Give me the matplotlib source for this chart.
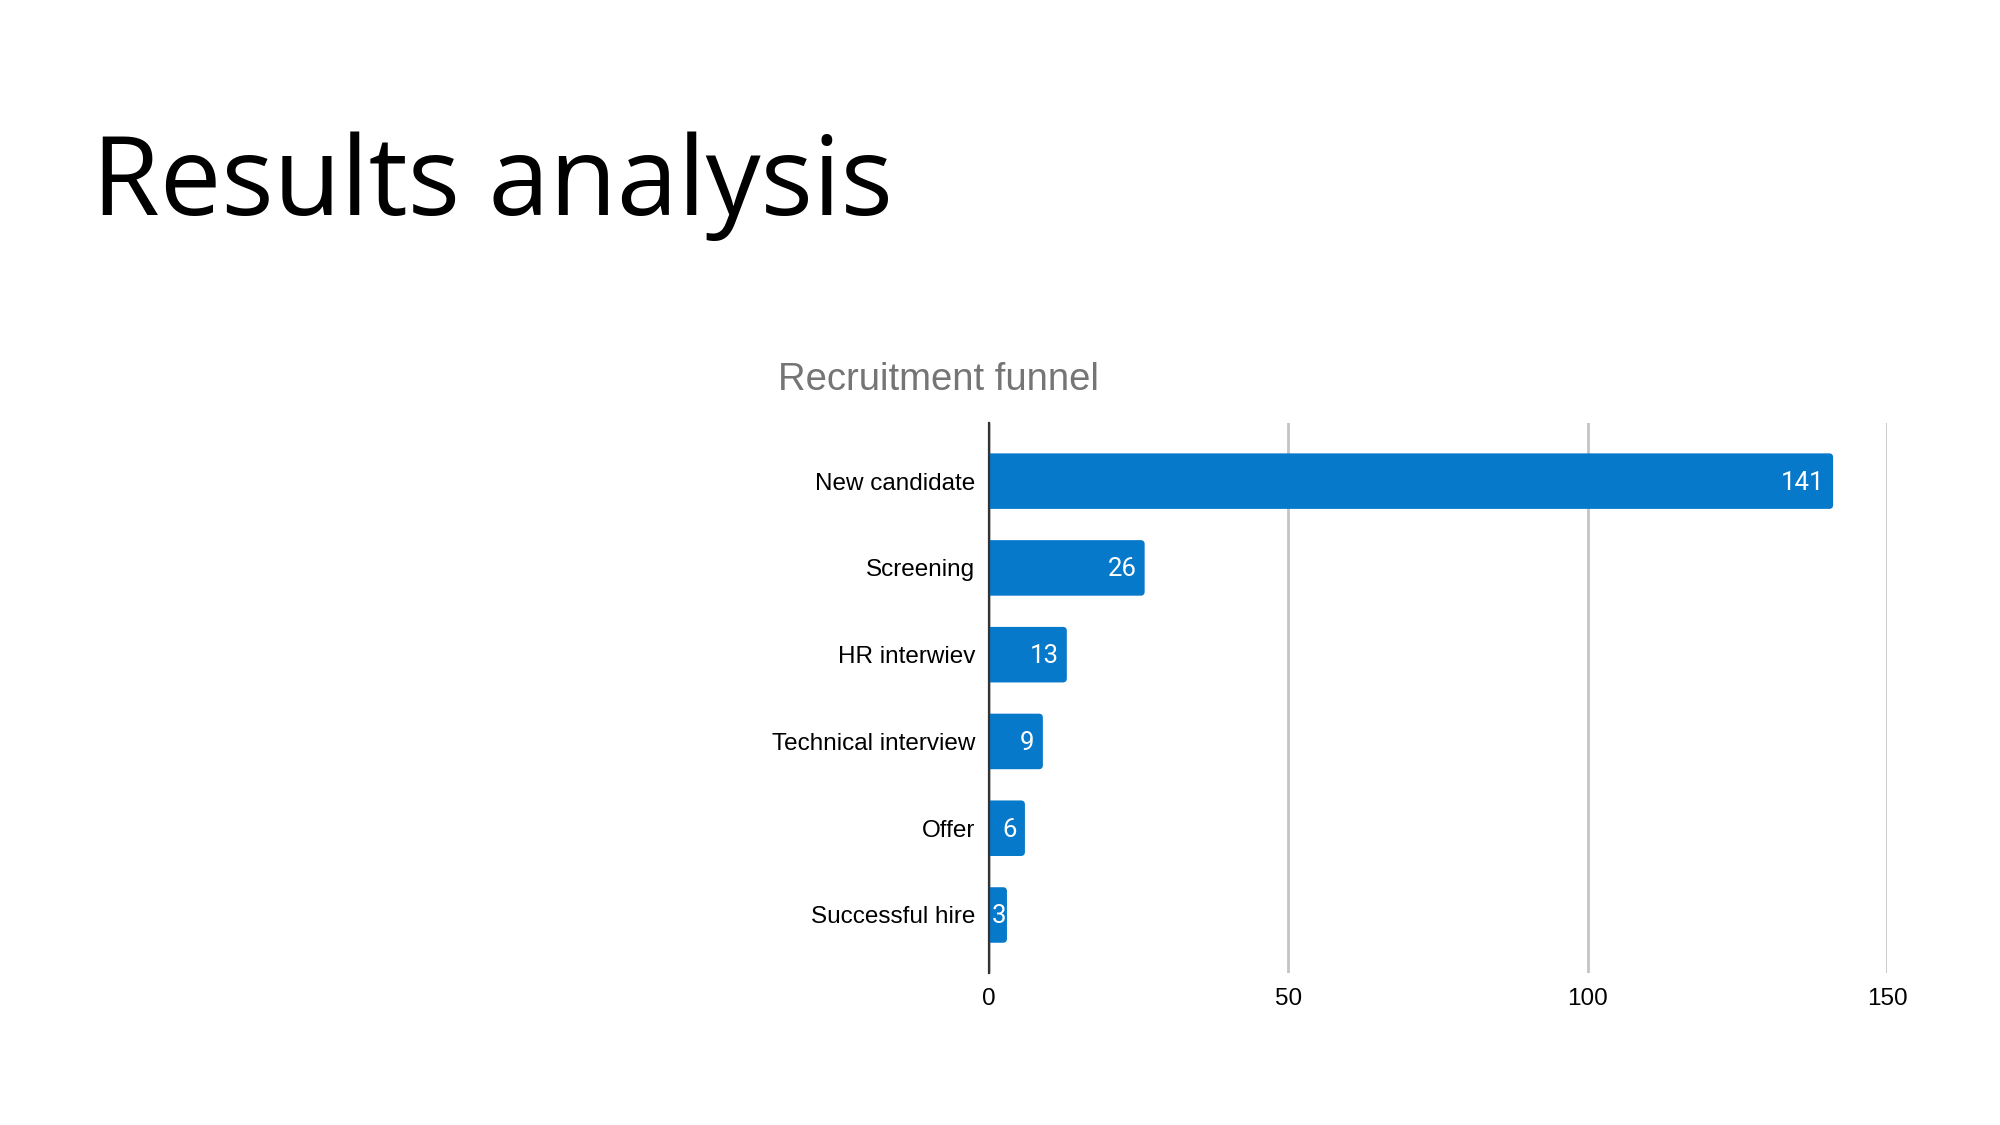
"""Results analysis slide: recruitment funnel horizontal bar chart."""

import matplotlib
matplotlib.use("Agg")
import matplotlib.pyplot as plt
from matplotlib.patches import FancyBboxPatch

# --- data ---
stages = ["New candidate", "Screening", "HR interwiev", "Technical interview",
          "Offer", "Successful hire"]
counts = [141, 26, 13, 9, 6, 3]
xticks = [0, 50, 100, 150]

BAR_COLOR = "#0679CB"
GRID_COLOR = "#C4C4C4"
W, H, DPI = 20, 11.25, 100
AX_L, AX_R, AX_B, AX_T = 0.4945, 0.9435, 0.135, 0.624

fig = plt.figure(figsize=(W, H), dpi=DPI)
fig.patch.set_facecolor("white")

# slide title
fig.text(0.046, 0.809, "Results analysis", fontsize=79, family="Open Sans",
         color="black", va="baseline", ha="left")

# chart title
fig.text(0.389, 0.653, "Recruitment funnel", fontsize=27.5, family="Liberation Sans",
         color="#757575", va="baseline", ha="left")

ax = fig.add_axes([AX_L, AX_B, AX_R - AX_L, AX_T - AX_B])
ypos = list(range(len(stages)))
bars = ax.barh(ypos, counts, height=0.64, color=BAR_COLOR, zorder=3)
ax.set_xlim(0, 150)
ax.set_ylim(len(stages) - 1 + 0.67, -0.67)

# rounded right ends: replace each plain bar by a rounded box that starts a
# little left of 0, so its left corners are clipped away by the axes
ax_w_px = (AX_R - AX_L) * W * DPI
ax_h_px = (AX_T - AX_B) * H * DPI
px_x = 150 / ax_w_px
px_y = (len(stages) - 1 + 1.34) / ax_h_px
r = 4 * px_x
for b in bars:
    x0, y0 = b.get_x(), b.get_y()
    bw, bh = b.get_width(), b.get_height()
    b.set_visible(False)
    fb = FancyBboxPatch((x0 - 2 * r, y0), bw + 2 * r, bh,
                        boxstyle=f"round,pad=0,rounding_size={r}",
                        mutation_aspect=px_y / px_x,
                        facecolor=BAR_COLOR, edgecolor="none", zorder=3)
    ax.add_patch(fb)

# value labels inside bar ends (short bars: label starts at the axis)
for y, v in zip(ypos, counts):
    if v / px_x < 26:
        ax.annotate(str(v), xy=(0, y), xytext=(2, -1), textcoords="offset points",
                    ha="left", va="center", color="white", fontsize=18.5,
                    family="Roboto", zorder=4)
    else:
        ax.annotate(str(v), xy=(v, y), xytext=(-6, -1), textcoords="offset points",
                    ha="right", va="center", color="white", fontsize=18.5,
                    family="Roboto", zorder=4)

ax.set_yticks(ypos)
ax.set_yticklabels(stages, fontsize=17.5, family="Liberation Sans", color="black")
ax.set_xticks(xticks)
ax.set_xticklabels([str(t) for t in xticks], fontsize=17.5,
                   family="Liberation Sans", color="black")
ax.tick_params(axis="both", length=0)
ax.tick_params(axis="y", pad=10)
ax.tick_params(axis="x", pad=11)

ax.grid(axis="x", color=GRID_COLOR, linewidth=2, zorder=1)
ax.grid(axis="y", visible=False)
for s in ["top", "right", "bottom"]:
    ax.spines[s].set_visible(False)
ax.spines["left"].set_color("#333333")
ax.spines["left"].set_linewidth(1.6)
ax.spines["left"].set_zorder(5)

fig.savefig("out.png", dpi=DPI, facecolor="white")
